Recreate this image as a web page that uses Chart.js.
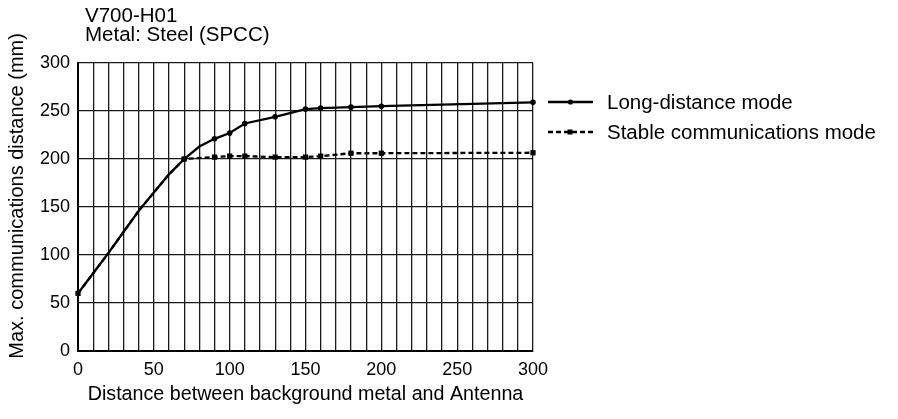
<!DOCTYPE html>
<html><head><meta charset="utf-8">
<script src="https://cdn.jsdelivr.net/npm/chart.js@4.4.1/dist/chart.umd.min.js"></script>
<style>html,body{margin:0;padding:0;background:#fff}</style>
</head><body>
<canvas id="c" width="898" height="419"></canvas>
<script>
// ---- data ----
const titleLines = ['V700-H01', 'Metal: Steel (SPCC)'];
const xAxisTitle = 'Distance between background metal and Antenna';
const yAxisTitle = 'Max. communications distance (mm)';
const seriesNames = ['Long-distance mode', 'Stable communications mode'];

const longX = [0, 10, 20, 30, 40, 50, 60, 70, 80, 90, 100, 110, 130, 150, 160, 180, 200, 300];
const longY = [60, 81, 102, 124, 146, 165, 184, 200, 213, 221, 227, 237, 244, 252, 253, 254, 255, 259];
const longMarked = [false, false, false, false, false, false, false, true, false, true, true, true, true, true, true, true, true, true];

const stableX = [0, 10, 20, 30, 40, 50, 60, 70, 90, 100, 110, 130, 150, 160, 180, 200, 300];
const stableY = [60, 81, 102, 124, 146, 165, 184, 200, 202, 203, 203, 202, 202, 203, 206, 206, 206.5];
const stableMarked = [true, false, false, false, false, false, false, true, true, true, true, true, true, true, true, true, true];

const xTickLabels = [0, 50, 100, 150, 200, 250, 300];
const yTickLabels = [0, 50, 100, 150, 200, 250, 300];

// ---- chart ----
const FONT = "'Liberation Sans', Arial, Helvetica, sans-serif";
Chart.defaults.font.family = FONT;
Chart.defaults.color = '#000';

const toPts = (xs, ys) => xs.map((x, i) => ({x: x, y: ys[i]}));

const titlePlugin = {
  id: 'topTitle',
  afterDraw(chart) {
    const ctx = chart.ctx;
    ctx.save();
    ctx.fillStyle = '#000';
    ctx.font = '20.5px ' + FONT;
    ctx.textBaseline = 'alphabetic';
    ctx.textAlign = 'left';
    ctx.fillText(titleLines[0], 85, 22);
    ctx.fillText(titleLines[1], 85, 41);
    ctx.restore();
  }
};

const legendPlugin = {
  id: 'sideLegend',
  afterDraw(chart) {
    const ctx = chart.ctx;
    const rows = [102, 132];
    chart.data.datasets.forEach((ds, i) => {
      const y = rows[i];
      ctx.save();
      ctx.strokeStyle = ds.borderColor;
      ctx.lineWidth = ds.borderWidth;
      ctx.setLineDash(ds.borderDash || []);
      ctx.beginPath();
      ctx.moveTo(548, y);
      ctx.lineTo(593, y);
      ctx.stroke();
      ctx.setLineDash([]);
      ctx.fillStyle = '#000';
      ctx.beginPath();
      if (ds.pointStyle === 'rect') { ctx.rect(567.5, y - 2.5, 5, 5); }
      else { ctx.arc(570.5, y, 2.6, 0, Math.PI * 2); }
      ctx.fill();
      ctx.font = '20.5px ' + FONT;
      ctx.textBaseline = 'middle';
      ctx.textAlign = 'left';
      ctx.fillText(seriesNames[i], 607, y + 1);
      ctx.restore();
    });
  }
};

new Chart(document.getElementById('c'), {
  type: 'line',
  data: {
    datasets: [
      {
        label: seriesNames[0],
        data: toPts(longX, longY),
        borderColor: '#000',
        backgroundColor: '#000',
        borderWidth: 2.3,
        pointStyle: 'circle',
        pointRadius: longMarked.map(m => m ? 2.8 : 0),
        pointBackgroundColor: '#000',
        pointBorderWidth: 0,
        tension: 0,
        clip: false,
        order: 1
      },
      {
        label: seriesNames[1],
        data: toPts(stableX, stableY),
        borderColor: '#000',
        backgroundColor: '#000',
        borderWidth: 2.3,
        borderDash: [5, 3],
        pointStyle: 'rect',
        pointRadius: stableMarked.map(m => m ? 3.7 : 0),
        pointBackgroundColor: '#000',
        pointBorderWidth: 0,
        tension: 0,
        clip: false,
        order: 2
      }
    ]
  },
  options: {
    responsive: false,
    animation: false,
    events: [],
    layout: {padding: {left: 0, top: 63, right: 365, bottom: 0}},
    plugins: {legend: {display: false}, title: {display: false}, tooltip: {enabled: false}},
    scales: {
      x: {
        type: 'linear',
        min: 0, max: 300,
        afterFit(s) { s.height = 68; },
        ticks: {
          stepSize: 10,
          autoSkip: false,
          maxRotation: 0,
          padding: 8,
          font: {size: 18},
          color: '#000',
          callback: v => xTickLabels.includes(v) ? String(v) : ''
        },
        grid: {color: '#1a1a1a', lineWidth: 1.3, drawTicks: false},
        border: {color: '#000', width: 2},
        title: {display: true, text: xAxisTitle, font: {size: 19.7}, color: '#000', padding: {top: 0, bottom: 13}}
      },
      y: {
        type: 'linear',
        min: 0, max: 300,
        afterFit(s) { s.width = 78; },
        ticks: {
          stepSize: 50,
          padding: 8,
          font: {size: 18},
          color: '#000',
          callback: v => yTickLabels.includes(v) ? String(v) : ''
        },
        grid: {color: '#1a1a1a', lineWidth: 1.3, drawTicks: false},
        border: {color: '#000', width: 2},
        title: {display: true, text: '    ' + yAxisTitle, font: {size: 20}, color: '#000', padding: {top: 5, bottom: 0}}
      }
    }
  },
  plugins: [titlePlugin, legendPlugin]
});
</script>
</body></html>
